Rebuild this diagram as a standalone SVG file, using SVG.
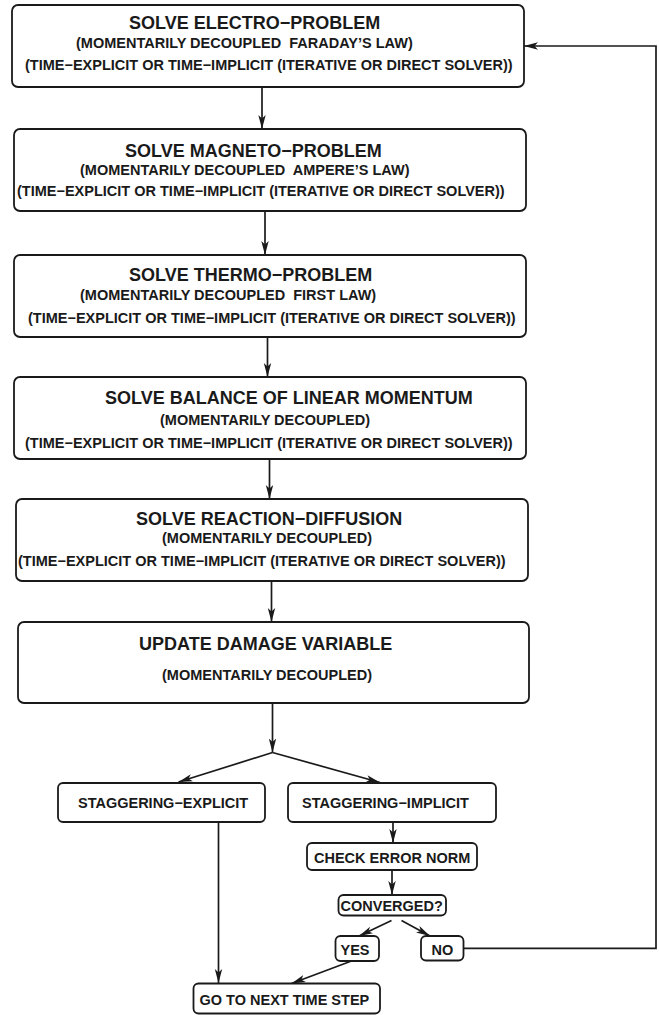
<svg xmlns="http://www.w3.org/2000/svg" width="659" height="1015" viewBox="0 0 659 1015">
<defs>
<style>
.box{fill:#fff;stroke:#1a1a1a;stroke-width:1.8}
.t{font-family:"Liberation Sans",Arial,Helvetica,sans-serif;font-weight:bold;fill:#1a1a1a;font-size:18px}
.s{font-family:"Liberation Sans",Arial,Helvetica,sans-serif;font-weight:bold;fill:#1a1a1a;font-size:14.5px;white-space:pre}
.c{fill:none;stroke:#1a1a1a;stroke-width:1.7}
</style>
<marker id="ah" markerUnits="userSpaceOnUse" markerWidth="15" markerHeight="9" refX="14" refY="4.5" orient="auto">
<path d="M0,0.8 L14,4.5 L0,8.2 L3.5,4.5 z" fill="#1a1a1a"/>
</marker>
</defs>
<rect width="659" height="1015" fill="#fff"/>
<g id="connectors">
<line class="c" x1="262" y1="87" x2="262" y2="129" marker-end="url(#ah)"/>
<line class="c" x1="265" y1="211" x2="265" y2="255" marker-end="url(#ah)"/>
<line class="c" x1="267.5" y1="337" x2="267.5" y2="377" marker-end="url(#ah)"/>
<line class="c" x1="269.5" y1="459" x2="269.5" y2="499" marker-end="url(#ah)"/>
<line class="c" x1="271.5" y1="581" x2="271.5" y2="622" marker-end="url(#ah)"/>
<line class="c" x1="272.5" y1="703" x2="272.5" y2="752.5" marker-end="url(#ah)"/>
<line class="c" x1="272.5" y1="752.5" x2="178.5" y2="782" marker-end="url(#ah)"/>
<line class="c" x1="272.5" y1="752.5" x2="380" y2="782.5" marker-end="url(#ah)"/>
<line class="c" x1="218.5" y1="822" x2="218.5" y2="983" marker-end="url(#ah)"/>
<line class="c" x1="393" y1="822" x2="393" y2="843" marker-end="url(#ah)"/>
<line class="c" x1="392" y1="870" x2="392" y2="895" marker-end="url(#ah)"/>
<line class="c" x1="391.5" y1="920.5" x2="359" y2="936" marker-end="url(#ah)"/>
<line class="c" x1="401.5" y1="920.5" x2="430" y2="936" marker-end="url(#ah)"/>
<line class="c" x1="351.5" y1="961" x2="291.5" y2="983.5" marker-end="url(#ah)"/>
<polyline class="c" points="463.5,948.3 656,948.3 656,46 524,46" marker-end="url(#ah)"/>
</g>
<g id="electro">
<rect class="box" x="12" y="5" width="512" height="82" rx="6"/>
<text class="t" x="129" y="28.5">SOLVE ELECTRO−PROBLEM</text>
<text class="s" x="76" y="48" xml:space="preserve">(MOMENTARILY DECOUPLED  FARADAY’S LAW)</text>
<text class="s" x="25" y="69.5">(TIME−EXPLICIT OR TIME−IMPLICIT (ITERATIVE OR DIRECT SOLVER))</text>
</g>
<g id="magneto">
<rect class="box" x="14" y="129" width="512" height="82" rx="6"/>
<text class="t" x="125" y="156.5">SOLVE MAGNETO−PROBLEM</text>
<text class="s" x="80" y="175" xml:space="preserve">(MOMENTARILY DECOUPLED  AMPERE’S LAW)</text>
<text class="s" x="17" y="196">(TIME−EXPLICIT OR TIME−IMPLICIT (ITERATIVE OR DIRECT SOLVER))</text>
</g>
<g id="thermo">
<rect class="box" x="14" y="255" width="512" height="82" rx="6"/>
<text class="t" x="129" y="281">SOLVE THERMO−PROBLEM</text>
<text class="s" x="80" y="300" xml:space="preserve">(MOMENTARILY DECOUPLED  FIRST LAW)</text>
<text class="s" x="28" y="323">(TIME−EXPLICIT OR TIME−IMPLICIT (ITERATIVE OR DIRECT SOLVER))</text>
</g>
<g id="momentum">
<rect class="box" x="14" y="377" width="512" height="82" rx="6"/>
<text class="t" x="105" y="404">SOLVE BALANCE OF LINEAR MOMENTUM</text>
<text class="s" x="160" y="425">(MOMENTARILY DECOUPLED)</text>
<text class="s" x="25" y="448">(TIME−EXPLICIT OR TIME−IMPLICIT (ITERATIVE OR DIRECT SOLVER))</text>
</g>
<g id="reaction">
<rect class="box" x="16" y="499" width="512" height="82" rx="6"/>
<text class="t" x="136" y="525">SOLVE REACTION−DIFFUSION</text>
<text class="s" x="162" y="543">(MOMENTARILY DECOUPLED)</text>
<text class="s" x="18" y="566">(TIME−EXPLICIT OR TIME−IMPLICIT (ITERATIVE OR DIRECT SOLVER))</text>
</g>
<g id="damage">
<rect class="box" x="18" y="622" width="511" height="81" rx="6"/>
<text class="t" x="139" y="650">UPDATE DAMAGE VARIABLE</text>
<text class="s" x="162" y="680">(MOMENTARILY DECOUPLED)</text>
</g>
<g id="stag-explicit">
<rect class="box" x="58" y="783" width="207" height="39" rx="5"/>
<text class="s" x="78" y="808">STAGGERING−EXPLICIT</text>
</g>
<g id="stag-implicit">
<rect class="box" x="288" y="783" width="208" height="39" rx="5"/>
<text class="s" x="302" y="808">STAGGERING−IMPLICIT</text>
</g>
<g id="check">
<rect class="box" x="307" y="843" width="170" height="27" rx="5"/>
<text class="s" x="314" y="863">CHECK ERROR NORM</text>
</g>
<g id="converged">
<rect class="box" x="338.5" y="895" width="107.5" height="20.5" rx="5"/>
<text class="s" x="340.5" y="911">CONVERGED?</text>
</g>
<g id="yes">
<rect class="box" x="335.5" y="936" width="43.5" height="25" rx="5"/>
<text class="s" x="340.5" y="955">YES</text>
</g>
<g id="no">
<rect class="box" x="421" y="936" width="42.5" height="24.5" rx="5"/>
<text class="s" x="431.5" y="955">NO</text>
</g>
<g id="next">
<rect class="box" x="193.5" y="983.5" width="186.5" height="30" rx="5"/>
<text class="s" x="199.5" y="1005">GO TO NEXT TIME STEP</text>
</g>
</svg>
